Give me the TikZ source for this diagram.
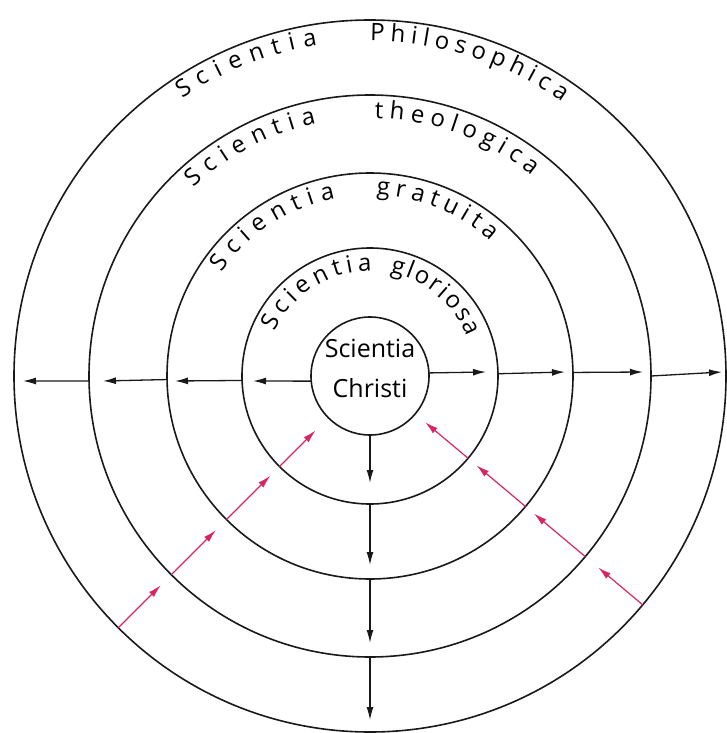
\documentclass[tikz,border=0pt]{standalone}
\usepackage{fontspec}
\setmainfont{Open Sans}
\usetikzlibrary{arrows.meta,calc,decorations.text}
\definecolor{pinkarrow}{RGB}{218,38,96}
\definecolor{ink}{RGB}{25,25,25}
\begin{document}
\begin{tikzpicture}[x=1pt,y=1pt,
  ring/.style={circle,draw=ink,line width=1.6pt,inner sep=0pt,outer sep=0pt},
  blackarrow/.style={draw=ink,line width=1.3pt,-{Latex[length=13pt,width=7pt]}},
  pinkarr/.style={draw=pinkarrow,line width=1.2pt,-{Latex[length=13pt,width=7pt]}},
  arctext/.style={decorate,decoration={text along path,text align=fit to path,text={|\fontsize{24}{28}\selectfont|#1}}},
  inner text/.style={font=\fontsize{25}{30}\selectfont,anchor=base,inner sep=0pt}
]
\useasboundingbox (0,0) rectangle (726,-733);
\coordinate (O) at (370,-376);
% circles
\node[ring,minimum size=118pt] (c0) at (O) {};
\node[ring,minimum size=256pt] (c1) at (O) {};
\node[ring,minimum size=406pt] (c2) at (O) {};
\node[ring,minimum size=562pt] (c3) at (O) {};
\node[ring,minimum size=712pt] (c4) at (O) {};
% inner label
\node[inner text] (t1) at (370,-357) {Scientia};
\node[inner text] (t2) at (370,-397) {Christi};
% curved labels
\path[arctext={Scientia}] ($(O)+(124:335)$) arc[start angle=124,end angle=99,radius=335];
\path[arctext={Philosophica}] ($(O)+(90:335)$) arc[start angle=90,end angle=55,radius=335];
\path[arctext={Scientia}] ($(O)+(133:258)$) arc[start angle=133,end angle=102,radius=258];
\path[arctext={theologica}] ($(O)+(89:258)$) arc[start angle=89,end angle=51,radius=258];
\path[arctext={Scientia}] ($(O)+(145:181)$) arc[start angle=145,end angle=101,radius=181];
\path[arctext={gratuita}] ($(O)+(88:181)$) arc[start angle=88,end angle=48,radius=181];
\path[arctext={Scientia}] ($(O)+(155:105)$) arc[start angle=155,end angle=89,radius=105];
\path[arctext={gloriosa}] ($(O)+(79:105)$) arc[start angle=79,end angle=22,radius=105];
% arrow tips
\coordinate (l1) at (253,-381);
\coordinate (l2) at (175,-381);
\coordinate (l3) at (103,-381);
\coordinate (l4) at (23,-381);
\coordinate (r1) at (486,-372);
\coordinate (r2) at (565,-372);
\coordinate (r3) at (643,-372);
\coordinate (r4) at (722,-372);
\coordinate (d1) at (370,-483);
\coordinate (d2) at (370,-565);
\coordinate (d3) at (370,-643);
\coordinate (d4) at (370,-720);
% black arrows
\draw[blackarrow] (c0.185) -- (l1);
\draw[blackarrow] (c1.182.2) -- (l2);
\draw[blackarrow] (c2.181.4) -- (l3);
\draw[blackarrow] (c3.181) -- (l4);
\draw[blackarrow] (c0.3.9) -- (r1);
\draw[blackarrow] (c1.1.8) -- (r2);
\draw[blackarrow] (c2.1.1) -- (r3);
\draw[blackarrow] (c3.0.8) -- (r4);
\draw[blackarrow] (c0.south) -- (d1);
\draw[blackarrow] (c1.south) -- (d2);
\draw[blackarrow] (c2.south) -- (d3);
\draw[blackarrow] (c3.south) -- (d4);
% pink arrows
\coordinate (pl1) at ($(O)+(225:296)$);
\coordinate (pl2) at ($(O)+(225:218)$);
\coordinate (pl3) at ($(O)+(225:141)$);
\coordinate (pl4) at ($(O)+(225:77)$);
\coordinate (pr1) at ($(O)+(320:298)$);
\coordinate (pr2) at ($(O)+(320:214)$);
\coordinate (pr3) at ($(O)+(320:139)$);
\coordinate (pr4) at ($(O)+(320:72)$);
\draw[pinkarr] (c4.225) -- (pl1);
\draw[pinkarr] (c3.225) -- (pl2);
\draw[pinkarr] (c2.225) -- (pl3);
\draw[pinkarr] (c1.225) -- (pl4);
\draw[pinkarr] (c4.320) -- (pr1);
\draw[pinkarr] (c3.320) -- (pr2);
\draw[pinkarr] (c2.320) -- (pr3);
\draw[pinkarr] (c1.320) -- (pr4);
\end{tikzpicture}
\end{document}
